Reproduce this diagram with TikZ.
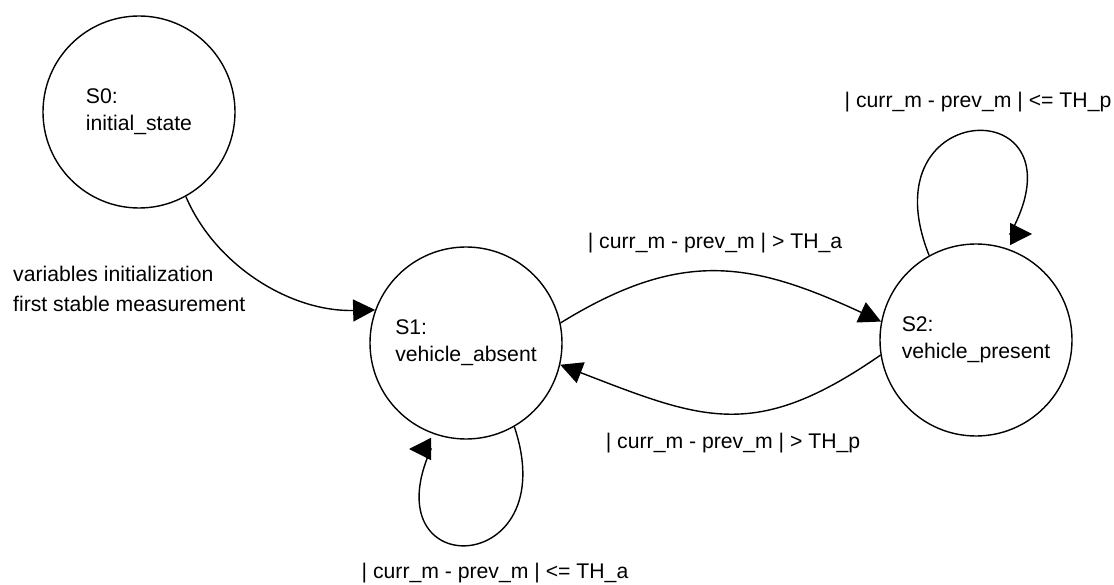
\documentclass[tikz,border=0pt]{standalone}
\usepackage{fontspec}
\setmainfont{Liberation Sans}
\usetikzlibrary{arrows.meta}
\begin{document}
\begin{tikzpicture}[x=1pt,y=-1pt,
  state/.style={circle,draw,line width=1.4pt,minimum size=192pt,inner sep=0pt,
    align=left,font=\fontsize{21.2}{27}\selectfont},
  lbl/.style={font=\fontsize{21.2}{30}\selectfont,inner sep=0pt},
  trans/.style={line width=1.4pt,-{Triangle[length=22pt,width=22pt]}}]
\useasboundingbox (0,0) rectangle (1114,585);

% states
\node[state] (S0) at (139,112) {S0:\\initial\_state};
\node[state] (S1) at (466,343) {S1:\\vehicle\_absent};
\node[state] (S2) at (976,340) {S2:\\vehicle\_present};

% transitions between states
\draw[trans] (S0.-61) .. controls (215,265) and (290,312) .. (S1.160);
\draw[trans] (S1.12) .. controls (682,248) and (752,262) .. (S2.169);
\draw[trans] (S2.189) .. controls (755,442) and (703,420) .. (S1.-13);

% self loops
\coordinate (L1base) at (431,449);
\coordinate (L1tip) at (409,449);
\draw[trans] (S1.-60) .. controls (565,578) and (370,585) .. (L1base) -- (L1tip);
\coordinate (L2base) at (1010,234);
\coordinate (L2tip) at (1032,234);
\draw[trans] (S2.119) .. controls (865,95) and (1090,90) .. (L2base) -- (L2tip);

% transition labels
\node[lbl,align=left,anchor=west] (init) at (13,289) {variables initialization\\first stable measurement};
\node[lbl] (t12) at (715,243) {| curr\_m - prev\_m | > TH\_a};
\node[lbl] (t21) at (733,443) {| curr\_m - prev\_m | > TH\_p};
\node[lbl] (t11) at (495,573) {| curr\_m - prev\_m | <= TH\_a};
\node[lbl] (t22) at (978,102) {| curr\_m - prev\_m | <= TH\_p};
\end{tikzpicture}
\end{document}
